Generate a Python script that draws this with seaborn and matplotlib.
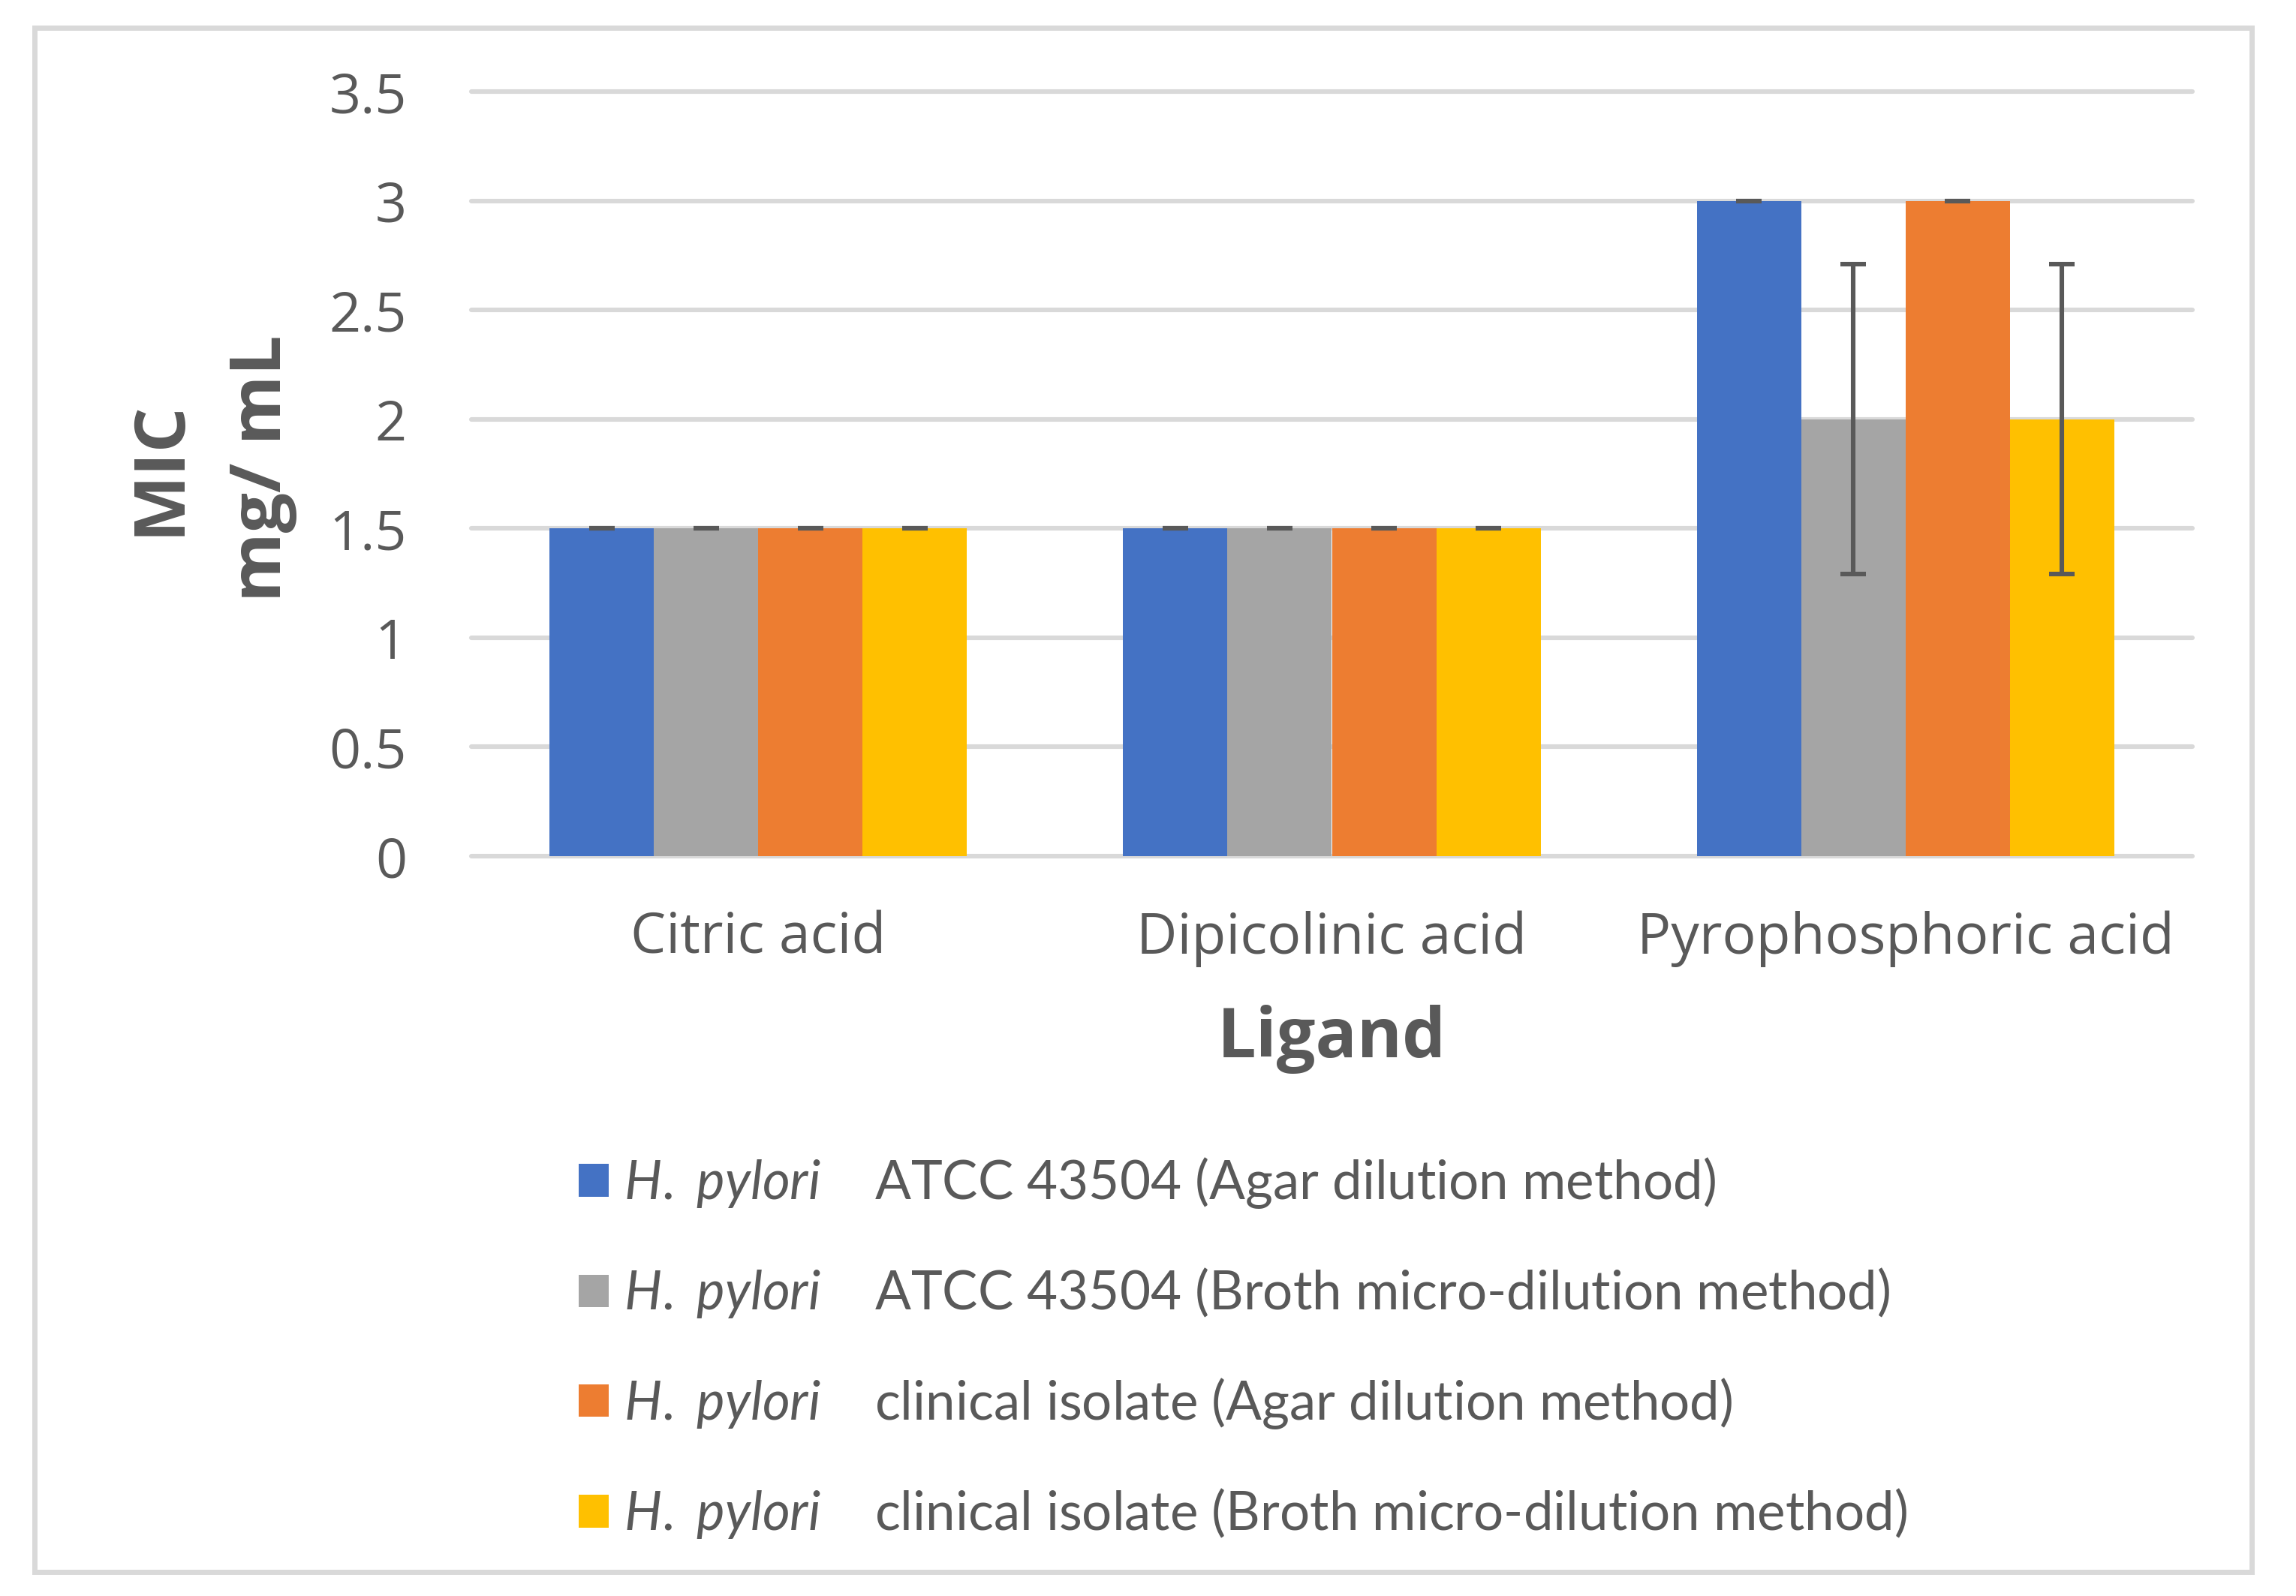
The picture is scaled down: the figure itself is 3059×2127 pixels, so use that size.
import matplotlib
matplotlib.use("Agg")
import matplotlib.pyplot as plt
import seaborn as sns
import pandas as pd
from matplotlib.patches import Rectangle

# ---------------- data ----------------
ligands = ["Citric acid", "Dipicolinic acid", "Pyrophosphoric acid"]
series = [
    r"$\mathit{H.\ pylori}$    ATCC 43504 (Agar dilution method)",
    r"$\mathit{H.\ pylori}$    ATCC 43504 (Broth micro-dilution method)",
    r"$\mathit{H.\ pylori}$    clinical isolate (Agar dilution method)",
    r"$\mathit{H.\ pylori}$    clinical isolate (Broth micro-dilution method)",
]
atcc_agar = [1.5, 1.5, 3.0]
atcc_broth = [1.5, 1.5, 2.0]
clin_agar = [1.5, 1.5, 3.0]
clin_broth = [1.5, 1.5, 2.0]
atcc_agar_err = [0.0, 0.0, 0.0]
atcc_broth_err = [0.0, 0.0, 0.71]
clin_agar_err = [0.0, 0.0, 0.0]
clin_broth_err = [0.0, 0.0, 0.71]
yticks = [0, 0.5, 1, 1.5, 2, 2.5, 3, 3.5]
ytick_labels = ["0", "0.5", "1", "1.5", "2", "2.5", "3", "3.5"]
colors = ["#4472C4", "#A5A5A5", "#ED7D31", "#FFC000"]

values = [atcc_agar, atcc_broth, clin_agar, clin_broth]
errors = [atcc_agar_err, atcc_broth_err, clin_agar_err, clin_broth_err]

rows = []
for s, vals in zip(series, values):
    for lig, v in zip(ligands, vals):
        rows.append({"Ligand": lig, "MIC": v, "Series": s})
df = pd.DataFrame(rows)

# ---------------- style ----------------
sns.set_style("white")
plt.rcParams["font.family"] = ["Open Sans", "DejaVu Sans"]
plt.rcParams["mathtext.fontset"] = "custom"
plt.rcParams["mathtext.it"] = "Lato:italic"
plt.rcParams["mathtext.rm"] = "Lato"

TXT = "#595959"
GRID = "#D9D9D9"

W, H = 3059, 2127
fig = plt.figure(figsize=(W / 200, H / 200), dpi=200)
ax_l, ax_r, ax_t, ax_b = 628, 2921, 122, 1141
ax = fig.add_axes([ax_l / W, 1 - ax_b / H, (ax_r - ax_l) / W, (ax_b - ax_t) / H])

sns.barplot(data=df, x="Ligand", y="MIC", hue="Series", order=ligands,
            hue_order=series, palette=colors, saturation=1, width=0.728,
            errorbar=None, linewidth=0, edgecolor="none", ax=ax)

# error bars
for cont, errs in zip(ax.containers, errors):
    xs = [b.get_x() + b.get_width() / 2 for b in cont]
    ys = [b.get_height() for b in cont]
    ax.errorbar(xs, ys, yerr=errs, fmt="none", ecolor=TXT, elinewidth=2.2,
                capsize=6, capthick=2.2, zorder=5)

ax.set_xlim(-0.5, 2.5)
ax.set_ylim(0, 3.5)
ax.set_yticks(yticks)
ax.set_yticklabels(ytick_labels)
ax.yaxis.grid(True, color=GRID, lw=2.2)
ax.xaxis.grid(False)
ax.set_axisbelow(True)
for gl in ax.get_ygridlines():
    gl.set_clip_on(False)
for sp in ax.spines.values():
    sp.set_visible(False)
ax.tick_params(axis="y", length=0, pad=31, labelsize=26.5, labelcolor=TXT)
ax.tick_params(axis="x", length=0, pad=26, labelsize=27, labelcolor=TXT)
ax.set_xlabel("")
ax.set_ylabel("")

fig.text(282 / W, 1 - 624 / H, "MIC\nmg/ mL", rotation=90, ha="center", va="center",
         multialignment="center", fontsize=34, fontweight="bold", color=TXT,
         linespacing=1.6)
fig.text((ax_l + ax_r) / 2 / W, 1 - 1385 / H, "Ligand", ha="center", va="center",
         fontsize=33, fontweight="bold", color=TXT)

# legend
handles, labels = ax.get_legend_handles_labels()
if ax.get_legend() is not None:
    ax.get_legend().remove()
leg = fig.legend(handles, labels, loc="upper left", bbox_to_anchor=(0.252, 0.276),
                 frameon=False, prop={"family": "Lato", "size": 25.5},
                 handlelength=0.57, handleheight=0.57, handletextpad=0.28,
                 labelspacing=1.05, borderpad=0, borderaxespad=0)
for t in leg.get_texts():
    t.set_color(TXT)

# outer border
bx0, bx1, by0, by1 = 45.5, 3000, 36.5, 2094.5
fig.patches.append(Rectangle((bx0 / W, 1 - by1 / H), (bx1 - bx0) / W, (by1 - by0) / H,
                             transform=fig.transFigure, fill=False, edgecolor=GRID, lw=2.5))

fig.savefig("out.png", dpi=200, facecolor="white")
